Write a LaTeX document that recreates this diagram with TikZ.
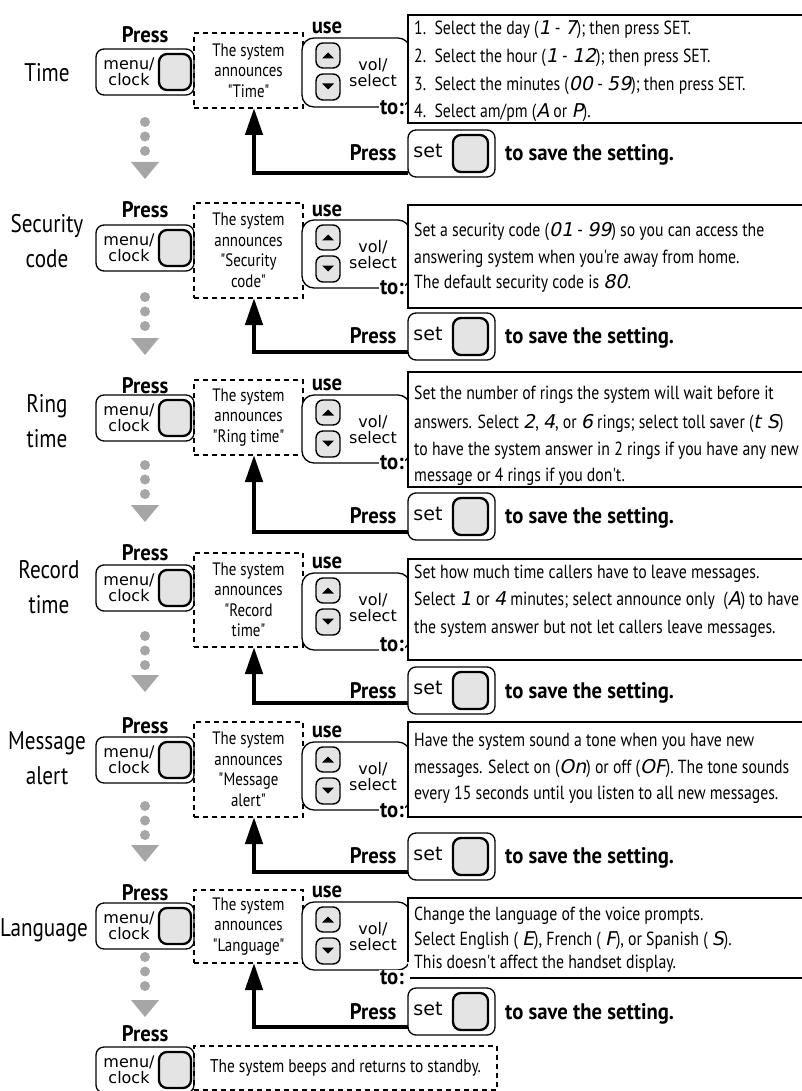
\documentclass[tikz,border=0pt]{standalone}
\usepackage{fontspec}
\setmainfont{PT Sans}[FakeStretch=0.83, Ligatures=TeXOff]
\newfontfamily\boldfam{PT Sans}[FakeStretch=0.92, Ligatures=TeXOff]
\newfontfamily\btnfont{DejaVu Sans}
\newfontfamily\segfont{DejaVu Sans}[FakeSlant=0.2]
\usetikzlibrary{arrows.meta}
\definecolor{btngray}{HTML}{E4E4E4}
\definecolor{dotgray}{HTML}{A6A6A6}
\newcommand\sg[1]{{\segfont #1}}
\newcommand\MenuBtn[2]{%
  \node[menubox] (#1) at (145,#2+23) {};
  \node[btntxt] (#1t) at (129,#2+23) {menu/\\clock};
  \draw[graybtn] (159,#2+5) rectangle (191,#2+41);
}
\newcommand\SetBtn[2]{%
  \node[menubox, minimum width=87pt, minimum height=47pt] (#1) at (451.5,#2+23.5) {};
  \node[btntxt, font=\btnfont\fontsize{19}{19}\selectfont] (#1t) at (428,#2+21) {set};
  \draw[graybtn] (453,#2+5) rectangle (488,#2+42);
}
\newcommand\VolBox[3]{%
  \draw[volst] (302,#2) rectangle (410,#3);
  \draw[smallbtn] (316,#2+5) rectangle (340,#2+30);
  \fill (322,#2+20.5) -- (334,#2+20.5) -- (328,#2+14.5) -- cycle;
  \draw[smallbtn] (316,#2+36) rectangle (340,#2+62);
  \fill (322,#2+45.5) -- (334,#2+45.5) -- (328,#2+51.5) -- cycle;
  \node[btntxt] (#1) at (373,#2+35) {vol/\\select};
}
\newcommand\Dots[2]{%
  \fill[dotgray] (145,#1) circle (5pt) (145,#1+14.5) circle (5pt) (145,#1+29) circle (5pt);
  \fill[dotgray] (131,#2) -- (159,#2) -- (145,#2+17) -- cycle;
}
\begin{document}
\begin{tikzpicture}[x=1pt,y=-1pt,
  menubox/.style={draw, line width=1.3pt, rounded corners=8pt, minimum width=98pt, minimum height=46pt, inner sep=0pt, fill=white},
  graybtn/.style={draw, line width=2.3pt, fill=btngray, rounded corners=8pt},
  volst/.style={draw, line width=1.3pt, rounded corners=12pt, fill=white},
  smallbtn/.style={draw, line width=1.4pt, fill=btngray, rounded corners=7pt},
  dbox/.style={draw, line width=1.6pt, dash pattern=on 5pt off 4pt, inner sep=0pt, align=center, font=\fontsize{18}{20.5}\selectfont},
  infost/.style={draw, line width=1.3pt, fill=white},
  btntxt/.style={font=\btnfont\fontsize{16}{16}\selectfont, align=center, inner sep=0pt},
  boldt/.style={font=\boldfam\bfseries\fontsize{22.5}{24}\selectfont, inner sep=0pt, text height=16pt, text depth=0pt},
  uset/.style={font=\boldfam\bfseries\fontsize{22.5}{24}\selectfont, inner sep=0pt},
  tot/.style={font=\boldfam\bfseries\fontsize{22.5}{24}\selectfont, inner sep=1pt, fill=white, anchor=east},
  txt/.style={font=\fontsize{19}{20}\selectfont, anchor=west, inner sep=0pt, text height=13pt, text depth=0pt},
  lbl/.style={font=\fontsize{25.5}{35}\selectfont, align=center, inner sep=0pt},
  fb/.style={line width=4.5pt, -{Triangle[length=27pt,width=17pt]}}]
\useasboundingbox (0,0) rectangle (801,1091);
\fill[white] (0,0) rectangle (801,1091);

% ---------- Section 1: Time
\node[lbl] (L1) at (47,73) {Time};
\node[boldt] (P1) at (145,35) {Press};
\MenuBtn{m1}{49}
\node[dbox, minimum width=109pt, minimum height=75pt] (d1) at (248.5,70.5) {The system\\announces\\"Time"};
\node[uset] (u1) at (327,28) {use};
\VolBox{v1}{38}{107}
\draw[infost] (408,15) rectangle (803,123);
\node[tot] (to1) at (405,108) {to:};
\node[txt] (i1a) at (414,28) {1.\ \ Select the day (\sg{1} - \sg{7}); then press SET.};
\node[txt] (i1b) at (414,56) {2.\ \ Select the hour (\sg{1} - \sg{12}); then press SET.};
\node[txt] (i1c) at (414,84) {3.\ \ Select the minutes (\sg{00} - \sg{59}); then press SET.};
\node[txt] (i1d) at (414,111) {4.\ \ Select am/pm (\sg{A} or \sg{P}).};
\SetBtn{s1}{130}
\node[boldt] (q1) at (373,153) {Press};
\node[boldt, anchor=west] (w1) at (505,153) {to save the setting.};
\coordinate (a1) at (408,173);
\coordinate (t1) at (254,108);
\draw[fb] (a1) -| (t1);
\Dots{122}{162}

% ---------- Section 2: Security code
\node[lbl] (L2) at (47,241) {Security\\code};
\node[boldt] (P2) at (145,210) {Press};
\MenuBtn{m2}{225}
\node[dbox, minimum width=109pt, minimum height=95pt] (d2) at (248.5,250.5) {The system\\announces\\"Security\\code"};
\node[uset] (u2) at (327,211) {use};
\VolBox{v2}{220}{288}
\draw[infost] (408,205) rectangle (803,308);
\node[tot] (to2) at (405,288) {to:};
\node[txt] (i2a) at (414,230) {Set a security code (\sg{01} - \sg{99}) so you can access the};
\node[txt] (i2b) at (414,257) {answering system when you're away from home.};
\node[txt] (i2c) at (414,282) {The default security code is \sg{80}.};
\SetBtn{s2}{313}
\node[boldt] (q2) at (373,335) {Press};
\node[boldt, anchor=west] (w2) at (505,335) {to save the setting.};
\coordinate (a2) at (408,352);
\coordinate (t2) at (254,298);
\draw[fb] (a2) -| (t2);
\Dots{297}{338}

% ---------- Section 3: Ring time
\node[lbl] (L3) at (47,421) {Ring\\time};
\node[boldt] (P3) at (145,385) {Press};
\MenuBtn{m3}{395}
\node[dbox, minimum width=109pt, minimum height=75pt] (d3) at (248.5,417.5) {The system\\announces\\"Ring time"};
\node[uset] (u3) at (327,385) {use};
\VolBox{v3}{395}{463}
\draw[infost] (408,372) rectangle (803,487);
\node[tot] (to3) at (405,463) {to:};
\node[txt] (i3a) at (414,393) {Set the number of rings the system will wait before it};
\node[txt] (i3b) at (414,422) {answers. Select \sg{2}, \sg{4}, or \sg{6} rings; select toll saver (\sg{t S})};
\node[txt] (i3c) at (414,449) {to have the system answer in 2 rings if you have any new};
\node[txt] (i3d) at (414,475) {message or 4 rings if you don't.};
\SetBtn{s3}{493}
\node[boldt] (q3) at (373,515) {Press};
\node[boldt, anchor=west] (w3) at (505,515) {to save the setting.};
\coordinate (a3) at (408,532);
\coordinate (t3) at (254,455);
\draw[fb] (a3) -| (t3);
\Dots{465}{505}

% ---------- Section 4: Record time
\node[lbl] (L4) at (49,587) {Record\\time};
\node[boldt] (P4) at (145,552) {Press};
\MenuBtn{m4}{565}
\node[dbox, minimum width=109pt, minimum height=94pt] (d4) at (248.5,600) {The system\\announces\\"Record\\time"};
\node[uset] (u4) at (327,563) {use};
\VolBox{v4}{573}{650}
\draw[infost] (408,559) rectangle (803,660);
\node[tot] (to4) at (405,645) {to:};
\node[txt] (i4a) at (414,572) {Set how much time callers have to leave messages.};
\node[txt] (i4b) at (414,599) {Select \sg{1} or \sg{4} minutes; select announce only\ \ (\sg{A}) to have};
\node[txt] (i4c) at (414,627) {the system answer but not let callers leave messages.};
\SetBtn{s4}{667}
\node[boldt] (q4) at (373,690) {Press};
\node[boldt, anchor=west] (w4) at (505,690) {to save the setting.};
\coordinate (a4) at (408,703);
\coordinate (t4) at (254,647);
\draw[fb] (a4) -| (t4);
\Dots{636}{675}

% ---------- Section 5: Message alert
\node[lbl] (L5) at (47,758) {Message\\alert};
\node[boldt] (P5) at (145,725) {Press};
\MenuBtn{m5}{737}
\node[dbox, minimum width=109pt, minimum height=95pt] (d5) at (248.5,769.5) {The system\\announces\\"Message\\alert"};
\node[uset] (u5) at (327,732) {use};
\VolBox{v5}{742}{810}
\draw[infost] (408,722) rectangle (803,817);
\node[tot] (to5) at (405,811) {to:};
\node[txt] (i5a) at (414,740) {Have the system sound a tone when you have new};
\node[txt] (i5b) at (414,767) {messages. Select on (\sg{On}) or off (\sg{OF}). The tone sounds};
\node[txt] (i5c) at (414,793) {every 15 seconds until you listen to all new messages.};
\SetBtn{s5}{833}
\node[boldt] (q5) at (373,855) {Press};
\node[boldt, anchor=west] (w5) at (505,855) {to save the setting.};
\coordinate (a5) at (408,872);
\coordinate (t5) at (254,817);
\draw[fb] (a5) -| (t5);
\Dots{806}{845}

% ---------- Section 6: Language
\node[lbl] (L6) at (44,930) {Language};
\node[boldt] (P6) at (145,892) {Press};
\MenuBtn{m6}{903}
\node[dbox, minimum width=109pt, minimum height=73pt] (d6) at (248.5,926.5) {The system\\announces\\"Language"};
\node[uset] (u6) at (327,892) {use};
\VolBox{v6}{902}{970}
\fill[white] (408,898) rectangle (803,978);
\draw[line width=1.3pt] (408,962) -- (408,898) -- (803,898);
\draw[line width=1.3pt] (410,978) -- (803,978);
\node[tot] (to6) at (405,978) {to:};
\node[txt] (i6a) at (414,914) {Change the language of the voice prompts.};
\node[txt] (i6b) at (414,939) {Select English ( \sg{E}), French ( \sg{F}), or Spanish ( \sg{S}).};
\node[txt] (i6c) at (414,962) {This doesn't affect the handset display.};
\SetBtn{s6}{988}
\node[boldt] (q6) at (373,1011) {Press};
\node[boldt, anchor=west] (w6) at (505,1011) {to save the setting.};
\coordinate (a6) at (408,1027);
\coordinate (t6) at (254,963);
\draw[fb] (a6) -| (t6);
\Dots{957}{1000}

% ---------- Final
\node[boldt] (P7) at (145,1033) {Press};
\MenuBtn{m7}{1047}
\node[dbox, minimum width=303pt, minimum height=44pt, font=\fontsize{18.5}{20}\selectfont] (d7) at (345.5,1068) {The system beeps and returns to standby.};
\end{tikzpicture}
\end{document}
